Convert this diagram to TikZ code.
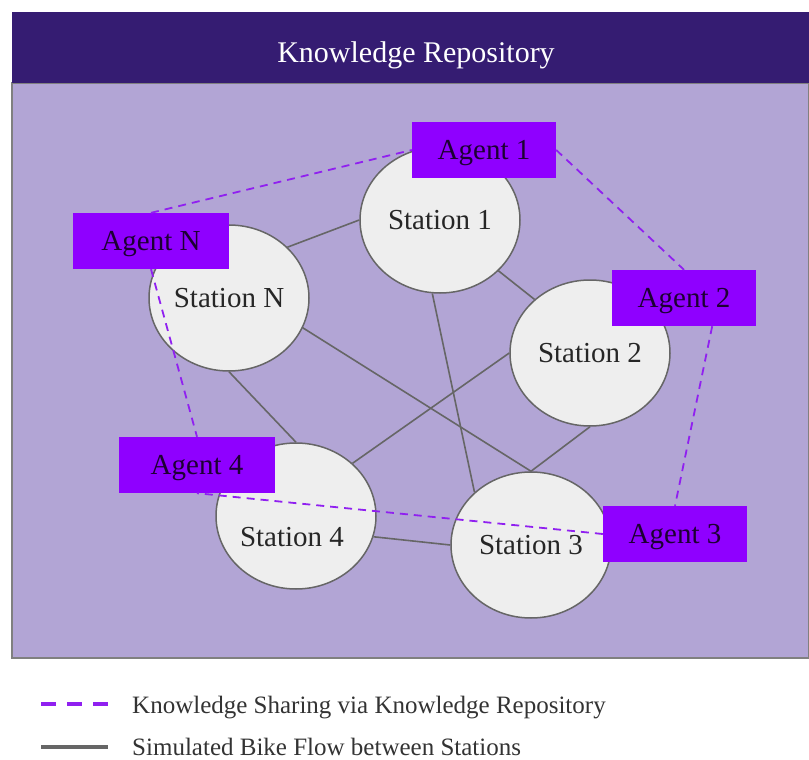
\documentclass[tikz,border=0pt]{standalone}
\usepackage{fontspec}
\setmainfont{Liberation Serif}
\usepackage{xcolor}
\usepackage{tikz}
\usetikzlibrary{calc,shapes.geometric}

\definecolor{repohead}{HTML}{351C72}
\definecolor{repobody}{HTML}{B2A5D5}
\definecolor{agentviolet}{HTML}{8F00FF}
\definecolor{sharepurple}{HTML}{9020F0}
\definecolor{stationgray}{HTML}{EEEEEE}
\definecolor{flowgray}{HTML}{666666}
\newcommand{\stationfont}{\fontsize{29}{34}\selectfont}
\newcommand{\legendfont}{\fontsize{25}{30}\selectfont}

\begin{document}
\begin{tikzpicture}[x=1pt,y=-1pt,
    station/.style={ellipse,draw=flowgray,line width=1.5pt,fill=stationgray,
      minimum width=160pt,minimum height=146pt,inner sep=0pt,font=\stationfont,text=black!85},
    agent/.style={rectangle,fill=agentviolet,minimum width=144pt,minimum height=56pt,
      inner sep=0pt,text depth=0pt,font=\stationfont,text=black!80!agentviolet},
    flow/.style={draw=flowgray,line width=1.6pt},
    share/.style={draw=sharepurple,line width=1.8pt,dash pattern=on 8pt off 6pt}]
    \useasboundingbox (0,0) rectangle (809,760);
    % repository frame
    \filldraw[fill=repobody,draw=gray,line width=1.5pt] (12,83) rectangle (809,658);
    \fill[repohead] (12,12) rectangle (809,83);
    \node[anchor=base,text=white,font=\fontsize{30}{36}\selectfont] (title) at (416,63) {Knowledge Repository};

    % stations
    \node[station] (s1) at (440,220) {Station 1};
    \node[station] (s2) at (590,353) {Station 2};
    \node[station] (s3) at (531,545) {Station 3};
    \node[station,label={[font=\stationfont,text=black!85,xshift=-4pt,yshift=-21pt]center:Station 4}] (s4) at (296,516) {};
    \node[station] (sN) at (229,298) {Station N};
    \foreach \a/\b in {sN.41/s1.180, s1.-41/s2.136, s1.-96/s3.137, sN.-22/s3.90,
                       s2.-90/s3.90, sN.-90/s4.90, s4.43/s2.180, s4.-15/s3.180}
      {\draw[flow] (\a) -- (\b);}

    % agents
    \node[agent] (a1) at (484,150) {Agent 1};
    \node[agent] (a2) at (684,298) {Agent 2};
    \node[agent] (a3) at (675,534) {Agent 3};
    \node[agent,minimum width=156pt] (a4) at (197,465) {Agent 4};
    \node[agent,minimum width=156pt] (aN) at (151,241) {Agent N};
    \foreach \a/\b in {aN.north/a1.west, a1.east/a2.north, a2.-45/a3.north,
                       a3.west/a4.south, aN.south/a4.north}
      {\draw[share] (\a) -- (\b);}

    % legend
    \coordinate (k0) at (41,704);
    \coordinate (k1) at (108,704);
    \coordinate (f0) at (41,747);
    \coordinate (f1) at (108,747);
    \draw[share,line width=4pt,dash pattern=on 15pt off 11pt] (k0) -- (k1);
    \draw[flow,line width=4pt] (f0) -- (f1);
    \node[anchor=base west,font=\legendfont,text=black!80,inner sep=0pt] (ktext) at (132,713) {Knowledge Sharing via Knowledge Repository};
    \node[anchor=base west,font=\legendfont,text=black!80,inner sep=0pt] (ftext) at (132,755) {Simulated Bike Flow between Stations};
\end{tikzpicture}
\end{document}
